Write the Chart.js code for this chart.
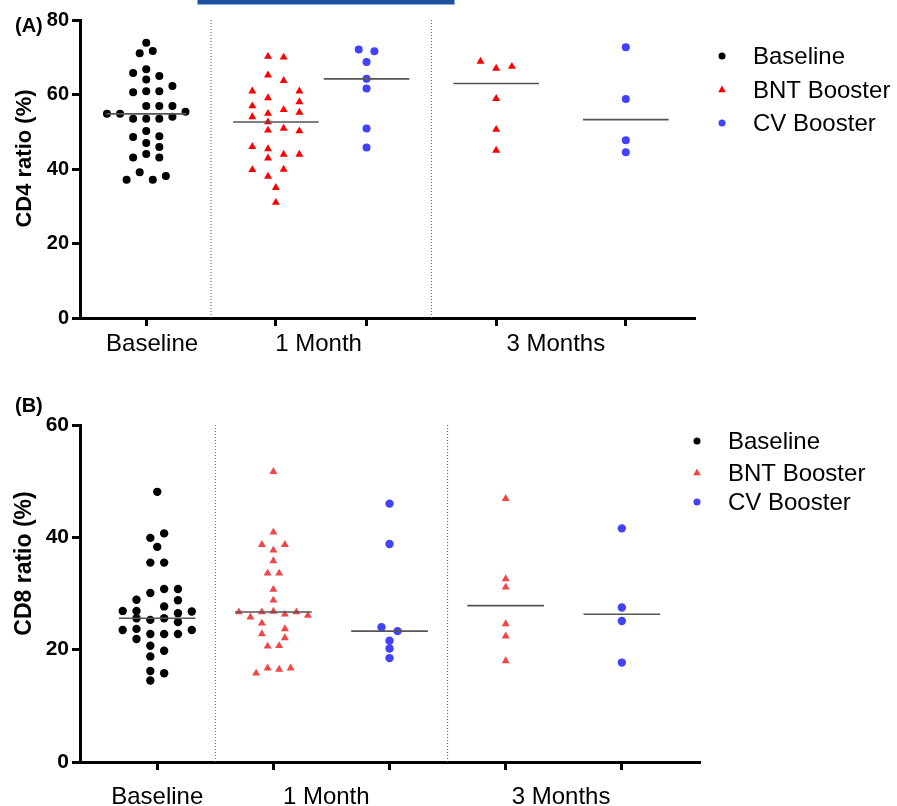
<!DOCTYPE html>
<html><head><meta charset="utf-8">
<script src="https://cdn.jsdelivr.net/npm/chart.js@4.4.0/dist/chart.umd.min.js"></script>
<style>
html,body{margin:0;padding:0;background:#fff;}
#wrap{position:relative;width:897px;height:806px;overflow:hidden;font-family:"Liberation Sans",Arial,sans-serif;}
canvas{position:absolute;left:0;}
#cA{top:0}
#cB{top:372px}
.plabel{position:absolute;left:15px;font-weight:bold;font-size:20px;line-height:20px;color:#000}
#bar{position:absolute;left:197px;top:-1px;width:256px;height:4px;background:#1d4f9f;border:1px solid #89b3e0;}
</style></head>
<body><div id="wrap">
<div id="bar"></div>
<canvas id="cA" width="897" height="372"></canvas>
<canvas id="cB" width="897" height="434"></canvas>
<div class="plabel" style="top:15px">(A)</div>
<div class="plabel" style="top:395px">(B)</div>
</div>
<script>
// ================= DATA =================
const categories = ['Baseline', '1 Month', '3 Months'];
const seriesNames = ['Baseline', 'BNT Booster', 'CV Booster'];
const cd4TickValues = [0, 20, 40, 60, 80];
const cd8TickValues = [0, 20, 40, 60];

// Panel A: CD4 ratio (%)
const cd4Baseline = [73.9,71.1,71.7,65.8,66.8,64.0,65.0,62.3,60.6,60.9,60.9,56.9,56.9,56.9,54.8,54.8,55.4,53.5,53.5,53.5,54.0,50.2,48.6,48.8,47.0,45.9,43.1,44.0,43.1,39.1,37.1,37.1,38.1];
const cd4BaselineSwarm = [0,-0.5,0.5,-1,0,0,1,2,-1,0,1,0,1,2,-3,-2,3,-1,0,1,2,0,-1,1,0,1,-1,0,1,-0.5,-1.5,0.5,1.5];
const cd4Bnt1m = [70.2,70.0,65.2,63.7,60.9,60.9,59.1,58.0,56.9,55.9,55.2,54.9,54.0,52.6,50.4,50.9,50.2,46.0,45.4,42.9,43.9,43.9,39.8,39.9,38.0,35.0,31.0];
const cd4Bnt1mSwarm = [-0.5,0.5,-0.5,0.5,-1.5,1.5,-0.5,1.5,-1.5,0.5,1.5,-0.5,-1.5,-0.5,-0.5,0.5,1.5,-1.5,-0.5,-0.5,0.5,1.5,-1.5,0.5,-0.5,0,0];
const cd4Cv1m = [72.1,71.6,68.7,64.2,61.6,50.9,45.8];
const cd4Cv1mSwarm = [-0.5,0.5,0,0,0,0,0];
const cd4Bnt3m = [68.9,67.0,67.5,58.9,50.6,45.0];
const cd4Bnt3mSwarm = [-1,0,1,0,0,0];
const cd4Cv3m = [72.7,58.8,47.7,44.5];
const cd4Cv3mSwarm = [0,0,0,0];

// Panel B: CD8 ratio (%)
const cd8Baseline = [48.1,39.9,40.7,38.3,35.5,35.5,30.1,30.8,30.8,28.9,28.8,26.9,26.9,27.7,26.5,26.8,25.6,25.3,25.6,24.9,23.5,23.7,22.8,22.8,22.8,23.5,21.9,20.7,19.8,18.8,16.2,15.8,14.5];
const cd8BaselineSwarm = [0,-0.5,0.5,0,-0.5,0.5,-0.5,0.5,1.5,-1.5,1.5,-2.5,-1.5,0.5,1.5,2.5,-1.5,-0.5,0.5,1.5,-2.5,-1.5,-0.5,0.5,1.5,2.5,-1.5,-0.5,0.5,-0.5,-0.5,0.5,-0.5];
const cd8Bnt1m = [51.7,40.9,38.7,38.7,37.7,35.8,33.6,33.6,30.7,28.8,26.7,26.7,26.8,26.7,25.8,26.3,26.1,24.7,22.8,23.7,22.1,20.6,20.7,15.8,16.7,16.5,16.7];
const cd8Bnt1mSwarm = [0,0,-1,1,0,0,-0.5,0.5,0,0,-3,-1,0,2,-2,1,3,-1,-1,1,1,-0.5,0.5,-1.5,-0.5,0.5,1.5];
const cd8Cv1m = [46.0,38.8,24.0,23.3,21.6,20.2,18.5];
const cd8Cv1mSwarm = [0,0,-0.7,0.7,0,0,0];
const cd8Bnt3m = [46.9,32.6,31.1,24.6,22.4,18.0];
const cd8Bnt3mSwarm = [0,0,0,0,0,0];
const cd8Cv3m = [41.6,27.5,25.1,17.7];
const cd8Cv3mSwarm = [0,0,0,0];

// ================= LAYOUT / STYLE =================
const FONT = '"Liberation Sans", Arial, Helvetica, sans-serif';
Chart.defaults.font.family = FONT;

function median(a) {
  const s = [...a].sort((p, q) => p - q);
  const n = s.length;
  return n % 2 ? s[(n - 1) / 2] : (s[n / 2 - 1] + s[n / 2]) / 2;
}

function makePanel(canvasId, L) {
  const datasets = [];
  L.groups.forEach(g => {
    datasets.push({
      type: 'scatter',
      label: g.name,
      data: g.vals.map((v, i) => ({ x: g.pos + g.swarm[i] * g.slot, y: v })),
      pointStyle: g.style,
      pointRadius: g.r,
      pointHoverRadius: g.r,
      backgroundColor: g.color,
      borderColor: g.color,
      pointBorderWidth: 0,
      borderWidth: 0,
      order: 1
    });
    const m = median(g.vals);
    datasets.push({
      type: 'line',
      label: 'median',
      data: [{ x: g.pos - g.hw, y: m }, { x: g.pos + g.hw, y: m }],
      borderColor: '#555555',
      borderWidth: 1.6,
      pointRadius: 0,
      fill: false,
      order: 0
    });
  });
  L.separators.forEach(s => {
    datasets.push({
      type: 'line',
      label: 'sep',
      data: [{ x: s, y: 0 }, { x: s, y: L.yMax }],
      borderColor: '#555',
      borderWidth: 1,
      borderDash: [1, 2],
      pointRadius: 0,
      fill: false,
      order: 2
    });
  });

  const labelMap = new Map(L.labelPos.map((p, i) => [p, categories[i]]));
  const markSet = new Set(L.groups.map(g => g.pos));
  const xTickVals = [...new Set([...markSet, ...L.labelPos])].sort((a, b) => a - b);

  const overlay = {
    id: 'overlay_' + canvasId,
    afterDraw(chart) {
      const ctx = chart.ctx;
      ctx.save();
      ctx.font = 'bold ' + L.title.size + 'px ' + FONT;
      ctx.fillStyle = '#000';
      ctx.textAlign = 'center';
      ctx.textBaseline = 'middle';
      ctx.translate(L.title.x, L.title.y);
      ctx.rotate(-Math.PI / 2);
      ctx.fillText(L.title.text, 0, 0);
      ctx.restore();
      L.legend.items.forEach((it, i) => {
        const y = L.legend.rows[i];
        ctx.save();
        ctx.fillStyle = it.color;
        ctx.strokeStyle = it.color;
        Chart.helpers.drawPoint(ctx, { pointStyle: it.style, radius: it.r, rotation: 0, borderWidth: 0 }, L.legend.mx, y);
        ctx.restore();
        ctx.save();
        ctx.font = L.legend.size + 'px ' + FONT;
        ctx.fillStyle = '#000';
        ctx.textAlign = 'left';
        ctx.textBaseline = 'middle';
        ctx.fillText(it.label, L.legend.tx, y + 1);
        ctx.restore();
      });
    }
  };

  return new Chart(document.getElementById(canvasId), {
    data: { datasets },
    options: {
      responsive: false,
      animation: false,
      layout: { padding: { top: L.padTop, right: L.padRight, left: 0, bottom: 0 } },
      plugins: { legend: { display: false }, tooltip: { enabled: false } },
      scales: {
        x: {
          type: 'linear',
          min: L.xMin, max: L.xMax,
          afterBuildTicks: s => { s.ticks = xTickVals.map(v => ({ value: v })); },
          afterFit: s => { s.height = L.xHeight; },
          ticks: {
            autoSkip: false, maxRotation: 0, minRotation: 0, padding: L.xPad,
            color: '#000', font: { size: 24 },
            callback: v => labelMap.has(v) ? labelMap.get(v) : ''
          },
          grid: {
            drawOnChartArea: false, drawTicks: true, tickLength: 8, tickWidth: 3,
            tickColor: c => (c.tick && markSet.has(c.tick.value)) ? '#000' : 'rgba(0,0,0,0)'
          },
          border: { display: true, color: '#000', width: 3 }
        },
        y: {
          type: 'linear',
          min: 0, max: L.yMax,
          afterBuildTicks: s => { s.ticks = L.yTicks.map(v => ({ value: v })); },
          afterFit: s => { s.width = 80; },
          ticks: { color: '#000', padding: 3, font: { size: L.yTickSize, weight: 'bold' } },
          grid: { drawOnChartArea: false, drawTicks: true, tickLength: 8, tickWidth: 3, tickColor: '#000' },
          border: { display: true, color: '#000', width: 3 }
        }
      }
    },
    plugins: [overlay]
  });
}

// Panel A
const redA = '#ff0000', blueA = '#4141ff', blk = '#000000';
makePanel('cA', {
  yMax: 80, yTicks: cd4TickValues, yTickSize: 20,
  xMin: 0.489, xMax: 5.234, xHeight: 54, xPad: 4, padTop: 20, padRight: 202,
  separators: [1.5, 3.2],
  labelPos: [1.045, 2.33, 4.16],
  title: { text: 'CD4 ratio (%)', x: 25, y: 158.5, size: 22 },
  legend: { mx: 722, tx: 753, size: 24, rows: [56, 90, 123], items: [
    { label: seriesNames[0], color: blk, style: 'circle', r: 3.5 },
    { label: seriesNames[1], color: redA, style: 'triangle', r: 4.4 },
    { label: seriesNames[2], color: blueA, style: 'circle', r: 3.5 } ] },
  groups: [
    { name: seriesNames[0], vals: cd4Baseline, swarm: cd4BaselineSwarm, pos: 1, slot: 0.101, hw: 0.31, color: blk, style: 'circle', r: 4 },
    { name: seriesNames[1], vals: cd4Bnt1m, swarm: cd4Bnt1mSwarm, pos: 2, slot: 0.121, hw: 0.33, color: redA, style: 'triangle', r: 4.6 },
    { name: seriesNames[2], vals: cd4Cv1m, swarm: cd4Cv1mSwarm, pos: 2.7, slot: 0.121, hw: 0.33, color: blueA, style: 'circle', r: 4 },
    { name: seriesNames[1], vals: cd4Bnt3m, swarm: cd4Bnt3mSwarm, pos: 3.7, slot: 0.121, hw: 0.33, color: redA, style: 'triangle', r: 4.6 },
    { name: seriesNames[2], vals: cd4Cv3m, swarm: cd4Cv3mSwarm, pos: 4.7, slot: 0.121, hw: 0.33, color: blueA, style: 'circle', r: 4 }
  ]
});

// Panel B
const redB = '#f24646', blueB = '#4343f6';
makePanel('cB', {
  yMax: 60, yTicks: cd8TickValues, yTickSize: 21,
  xMin: 0.335, xMax: 5.673, xHeight: 44, xPad: 13, padTop: 53, padRight: 197,
  separators: [1.5, 3.5],
  labelPos: [1.0, 2.455, 4.477],
  title: { text: 'CD8 ratio (%)', x: 25, y: 191.5, size: 23 },
  legend: { mx: 697, tx: 728, size: 24, rows: [69, 101, 130], items: [
    { label: seriesNames[0], color: blk, style: 'circle', r: 3.5 },
    { label: seriesNames[1], color: redB, style: 'triangle', r: 4.4 },
    { label: seriesNames[2], color: blueB, style: 'circle', r: 3.5 } ] },
  groups: [
    { name: seriesNames[0], vals: cd8Baseline, swarm: cd8BaselineSwarm, pos: 1, slot: 0.119, hw: 0.33, color: blk, style: 'circle', r: 4.2 },
    { name: seriesNames[1], vals: cd8Bnt1m, swarm: cd8Bnt1mSwarm, pos: 2, slot: 0.099, hw: 0.33, color: redB, style: 'triangle', r: 4.6 },
    { name: seriesNames[2], vals: cd8Cv1m, swarm: cd8Cv1mSwarm, pos: 3, slot: 0.099, hw: 0.33, color: blueB, style: 'circle', r: 4.2 },
    { name: seriesNames[1], vals: cd8Bnt3m, swarm: cd8Bnt3mSwarm, pos: 4, slot: 0.099, hw: 0.33, color: redB, style: 'triangle', r: 4.6 },
    { name: seriesNames[2], vals: cd8Cv3m, swarm: cd8Cv3mSwarm, pos: 5, slot: 0.099, hw: 0.33, color: blueB, style: 'circle', r: 4.2 }
  ]
});
</script>
</body></html>
